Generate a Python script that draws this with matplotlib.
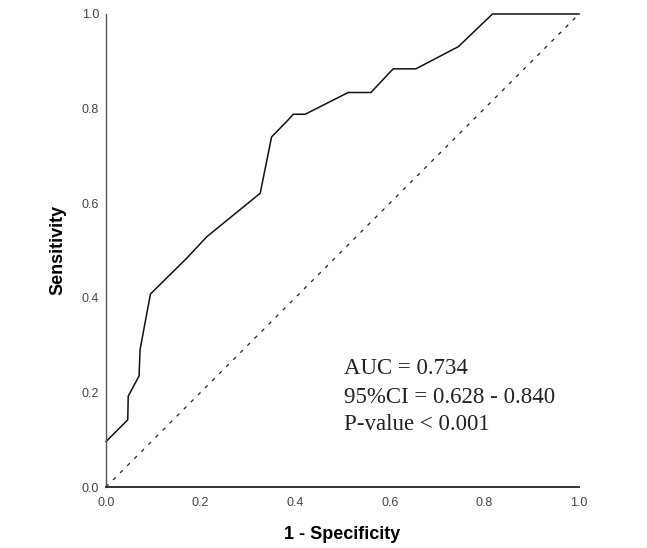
import matplotlib
matplotlib.use("Agg")
import matplotlib.pyplot as plt

# ROC curve points
fpr = [0.0, 0.046, 0.047, 0.070, 0.072, 0.085, 0.094, 0.171, 0.213, 0.326, 0.350,
       0.385, 0.396, 0.421, 0.512, 0.560, 0.607, 0.655, 0.745, 0.817, 1.0]
tpr = [0.096, 0.142, 0.192, 0.235, 0.290, 0.360, 0.408, 0.484, 0.529, 0.621, 0.740,
       0.776, 0.788, 0.788, 0.834, 0.834, 0.884, 0.884, 0.931, 1.0, 1.0]
ref_line = [0.0, 1.0]
ticks = [0.0, 0.2, 0.4, 0.6, 0.8, 1.0]
tick_labels = ["0.0", "0.2", "0.4", "0.6", "0.8", "1.0"]
annot_lines = ["AUC = 0.734", "95%CI = 0.628 - 0.840", "P-value < 0.001"]

fig = plt.figure(figsize=(6.47, 5.48), dpi=100)
ax = fig.add_axes([0.1638, 0.1113, 0.7312, 0.8632])

ax.plot(ref_line, ref_line, color="#222222", lw=0.9, linestyle=(0, (3, 5)))
ax.plot(fpr, tpr, color="#111111", lw=1.1, clip_on=False)

ax.set_xlim(0, 1)
ax.set_ylim(0, 1)
ax.set_xticks(ticks)
ax.set_xticklabels(tick_labels)
ax.set_yticks(ticks)
ax.set_yticklabels(tick_labels)
ax.tick_params(axis="both", length=0, labelsize=9, labelcolor="#444444",
               labelfontfamily="Liberation Sans")
ax.tick_params(axis="x", pad=7)
ax.tick_params(axis="y", pad=5)

for s in ["top", "right"]:
    ax.spines[s].set_visible(False)
ax.spines["left"].set_color("#555555")
ax.spines["left"].set_linewidth(1.0)
ax.spines["bottom"].set_color("#222222")
ax.spines["bottom"].set_linewidth(1.3)

ax.set_xlabel("1 - Specificity", fontsize=13, fontweight="bold",
              family="Liberation Sans", va="center")
ax.xaxis.set_label_coords(0.499, -0.101)
ax.set_ylabel("Sensitivity", fontsize=13, fontweight="bold",
              family="Liberation Sans", va="center")
ax.yaxis.set_label_coords(-0.101, 0.501)

ys = [0.239, 0.178, 0.120]
for t, y in zip(annot_lines, ys):
    ax.text(0.503, y, t, fontsize=16.5, family="Liberation Serif",
            color="#222222", ha="left", va="baseline")

fig.savefig("out.png", dpi=100)
